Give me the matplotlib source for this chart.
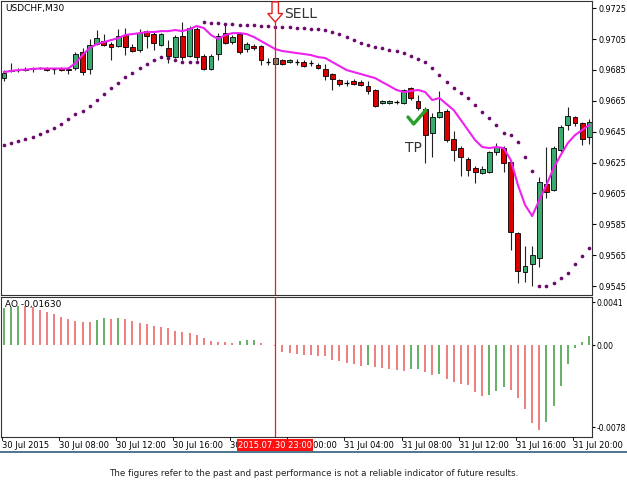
import matplotlib
matplotlib.use("Agg")
import matplotlib.pyplot as plt
from matplotlib.patches import Rectangle, FancyArrow
import numpy as np

opens = [0.96797,0.96843,0.96849,0.96852,0.96862,0.96862,0.96862,0.96856,0.96862,0.96859,
         0.96862,0.96966,0.96856,0.97017,0.97037,0.97017,0.97004,0.97076,0.96998,0.96979,
         0.97101,0.97082,0.97011,0.96992,0.96933,0.97069,0.96940,0.97114,0.96940,0.96856,
         0.96953,0.97088,0.97030,0.97082,0.96985,0.97004,0.97004,0.96901,0.96927,0.96914,
         0.96901,0.96901,0.96901,0.96894,0.96881,0.96856,0.96823,0.96784,0.96765,0.96778,
         0.96771,0.96746,0.96720,0.96636,0.96636,0.96642,0.96636,0.96733,0.96649,0.96597,
         0.96441,0.96545,0.96584,0.96403,0.96344,0.96273,0.96215,0.96183,0.96189,0.96319,
         0.96344,0.96254,0.95794,0.95542,0.95594,0.95633,0.96111,0.96073,0.96332,0.96493,
         0.96545,0.96506,0.96416]
highs = [0.96849,0.96894,0.96862,0.96869,0.96869,0.96869,0.96869,0.96862,0.96869,0.96869,
         0.96966,0.96992,0.97050,0.97108,0.97082,0.97030,0.97114,0.97121,0.97017,0.97114,
         0.97108,0.97095,0.97088,0.97043,0.97076,0.97160,0.97134,0.97127,0.96953,0.96953,
         0.97088,0.97153,0.97076,0.97088,0.97030,0.97017,0.97011,0.96927,0.96933,0.96920,
         0.96920,0.96920,0.96914,0.96914,0.96894,0.96888,0.96830,0.96791,0.96784,0.96791,
         0.96784,0.96778,0.96726,0.96655,0.96655,0.96655,0.96726,0.96739,0.96687,0.96610,
         0.96571,0.96713,0.96597,0.96454,0.96357,0.96286,0.96228,0.96228,0.96325,0.96377,
         0.96357,0.96260,0.95801,0.95710,0.95710,0.96157,0.96351,0.96357,0.96493,0.96610,
         0.96551,0.96513,0.96534]
lows = [0.96778,0.96836,0.96836,0.96843,0.96836,0.96856,0.96843,0.96823,0.96843,0.96823,
        0.96849,0.96817,0.96823,0.97011,0.97004,0.96914,0.96998,0.96946,0.96966,0.96966,
        0.96992,0.96979,0.97004,0.96894,0.96927,0.96914,0.96933,0.96914,0.96849,0.96849,
        0.96914,0.97017,0.97017,0.96953,0.96966,0.96979,0.96881,0.96881,0.96881,0.96881,
        0.96894,0.96881,0.96868,0.96875,0.96856,0.96784,0.96720,0.96746,0.96746,0.96752,
        0.96746,0.96694,0.96610,0.96629,0.96629,0.96629,0.96629,0.96655,0.96590,0.96247,
        0.96286,0.96539,0.96383,0.96260,0.96163,0.96163,0.96118,0.96176,0.96183,0.96299,
        0.96189,0.95684,0.95471,0.95477,0.95452,0.95575,0.96021,0.96066,0.96319,0.96461,
        0.96487,0.96364,0.96370]
closes = [0.96830,0.96849,0.96846,0.96856,0.96859,0.96862,0.96849,0.96856,0.96849,0.96849,
          0.96953,0.96836,0.97011,0.97056,0.97011,0.96998,0.97069,0.96998,0.96972,0.97088,
          0.97069,0.97024,0.97082,0.96940,0.97063,0.96933,0.97121,0.96933,0.96856,0.96940,
          0.97069,0.97024,0.97063,0.96966,0.97017,0.96992,0.96914,0.96901,0.96888,0.96888,
          0.96914,0.96901,0.96875,0.96894,0.96862,0.96810,0.96791,0.96759,0.96765,0.96759,
          0.96752,0.96713,0.96616,0.96649,0.96649,0.96642,0.96720,0.96668,0.96603,0.96428,
          0.96545,0.96577,0.96396,0.96332,0.96286,0.96202,0.96189,0.96209,0.96319,0.96351,
          0.96247,0.95801,0.95549,0.95581,0.95652,0.96124,0.96060,0.96344,0.96480,0.96551,
          0.96506,0.96403,0.96513]
ma = [0.96836,0.96843,0.96849,0.96852,0.96856,0.96859,0.96859,0.96859,0.96859,0.96859,
      0.96894,0.96946,0.96992,0.97017,0.97030,0.97043,0.97056,0.97076,0.97082,0.97088,
      0.97095,0.97095,0.97101,0.97101,0.97108,0.97101,0.97114,0.97134,0.97121,0.97076,
      0.97050,0.97076,0.97088,0.97088,0.97082,0.97063,0.97037,0.97011,0.96985,0.96972,
      0.96966,0.96959,0.96953,0.96946,0.96933,0.96927,0.96901,0.96875,0.96849,0.96836,
      0.96823,0.96810,0.96797,0.96771,0.96746,0.96720,0.96707,0.96713,0.96720,0.96707,
      0.96655,0.96668,0.96629,0.96590,0.96526,0.96461,0.96396,0.96351,0.96344,0.96351,
      0.96344,0.96267,0.96105,0.95976,0.95904,0.96008,0.96105,0.96215,0.96299,0.96377,
      0.96428,0.96461,0.96493]
sar = [0.96364,0.96377,0.96390,0.96403,0.96416,0.96435,0.96454,0.96474,0.96500,0.96532,
       0.96564,0.96584,0.96616,0.96655,0.96694,0.96733,0.96765,0.96804,0.96830,0.96862,
       0.96888,0.96914,0.96933,0.96927,0.96914,0.96901,0.96901,0.96901,
       0.97160,0.97153,0.97153,0.97147,0.97147,0.97140,0.97140,0.97140,0.97134,0.97134,
       0.97127,0.97127,0.97127,0.97121,0.97121,0.97114,0.97114,0.97108,0.97095,0.97082,
       0.97063,0.97043,0.97024,0.97011,0.96998,0.96991,0.96979,
       0.96972,0.96959,0.96940,0.96920,0.96901,0.96862,0.96817,0.96771,0.96733,0.96700,
       0.96668,0.96623,0.96577,0.96539,0.96493,0.96441,0.96429,0.96383,0.96286,0.96196,
       0.95452,0.95452,0.95471,0.95503,0.95536,0.95594,0.95646,0.95698]
ao = [0.00352,0.00368,0.00374,0.00372,0.00368,0.00336,0.00320,0.00298,0.00272,0.00246,
      0.00230,0.00221,0.00219,0.00240,0.00256,0.00250,0.00259,0.00250,0.00230,0.00208,
      0.00198,0.00182,0.00173,0.00160,0.00138,0.00128,0.00118,0.00096,0.00074,0.00038,
      0.00032,0.00029,0.00026,0.00042,0.00048,0.00054,0.00022,0.00006,-0.00010,-0.00064,
      -0.00074,-0.00086,-0.00090,-0.00096,-0.00102,-0.00106,-0.00138,-0.00154,-0.00170,-0.00182,
      -0.00198,-0.00189,-0.00208,-0.00214,-0.00227,-0.00240,-0.00246,-0.00230,-0.00227,-0.00256,
      -0.00282,-0.00272,-0.00320,-0.00352,-0.00368,-0.00374,-0.00448,-0.00480,-0.00470,-0.00432,
      -0.00400,-0.00426,-0.00506,-0.00608,-0.00742,-0.00806,-0.00730,-0.00582,-0.00384,-0.00176,
      -0.00022,0.00032,0.00090]
price_ticks = [0.9725,0.9705,0.9685,0.9665,0.9645,0.9625,0.9605,0.9585,0.9565,0.9545]
ao_ticks = [0.0041,0.0,-0.0078]
ao_tick_labels = ["0.0041","0.00","-0.0078"]
time_pos = [0,8,16,24,32,40,48,56,64,72,80]
time_labels = ["30 Jul 2015","30 Jul 08:00","30 Jul 12:00","30 Jul 16:00","30 Jul 20:00",
               "31 Jul 00:00","31 Jul 04:00","31 Jul 08:00","31 Jul 12:00","31 Jul 16:00","31 Jul 20:00"]
sell_idx = 38

W, H = 627, 495
fig = plt.figure(figsize=(W/100, H/100), dpi=100)
fig.patch.set_facecolor("white")

def ax_px(x0, y0, x1, y1):
    return fig.add_axes([x0/W, 1-y1/H, (x1-x0)/W, (y1-y0)/H])

xl = (-0.42, 82.38)
ax = ax_px(1, 1, 592, 295)
ax2 = ax_px(1, 297, 592, 437)
n = len(opens)
idx = np.arange(n)

GREEN = "#3aaa6e"
RED = "#d90000"
for i in range(n):
    o, h, l, c = opens[i], highs[i], lows[i], closes[i]
    ax.vlines(i, l, h, color="#222222", lw=0.8, zorder=2)
    if i == sell_idx:
        col = "#8a8a70"
    else:
        col = GREEN if c > o else RED
    lo, hi = min(o, c), max(o, c)
    if hi - lo < 0.00003:
        ax.hlines(o, i-0.3, i+0.3, color="black", lw=0.9, zorder=3)
    else:
        ax.add_patch(Rectangle((i-0.34, lo), 0.68, hi-lo, facecolor=col,
                               edgecolor="black", lw=0.6, zorder=3))
ax.plot(idx, ma, color="#ee22ee", lw=1.5, zorder=4)
ax.scatter(idx, sar, s=7, color="#6a0a6a", zorder=4, linewidths=0)
ax.set_xlim(*xl)
ax.set_ylim(0.95393, 0.97296)
ax.axvline(sell_idx, color="#ee1c1c", lw=0.9, zorder=5)
ax2.axvline(sell_idx, color="#ee1c1c", lw=0.9, zorder=5)

for a in (ax, ax2):
    a.yaxis.tick_right()
    a.tick_params(axis="y", labelsize=5.8, length=3, pad=1.5, colors="black")
    a.set_xticks([])
    for s in a.spines.values():
        s.set_linewidth(0.8)
        s.set_color("#333333")
ax.set_yticks(price_ticks)
ax.set_yticklabels([f"{t:.4f}" for t in price_ticks])

ao_col = [("#3a9a3a" if (i > 0 and ao[i] > ao[i-1]) or i == 0 else "#e85a5a") for i in range(n)]
ax2.vlines(idx, 0, ao, colors=ao_col, lw=1.1)
ax2.set_xlim(*xl)
ax2.set_ylim(-0.00874, 0.0046)
ax2.set_yticks(ao_ticks)
ax2.set_yticklabels(ao_tick_labels)
ax2.tick_params(axis="y", labelsize=5.5, length=2, pad=1)

ax.text(4/591, 1-7/294, "USDCHF,M30", transform=ax.transAxes, fontsize=6.5, va="center", ha="left")
ax2.text(4/591, 1-7/140, "AO -0,01630", transform=ax2.transAxes, fontsize=6.5, va="center", ha="left")

# sell arrow
ax.add_patch(FancyArrow(sell_idx, 0.97290, 0, -0.00130, width=0.9, head_width=2.1,
                        head_length=0.00055, length_includes_head=True, facecolor="white",
                        edgecolor="#e02020", lw=1.0, zorder=6))
ax.text(sell_idx+1.3, 0.97212, "SELL", fontsize=10, color="#333333", va="center", zorder=6)
ax.plot([56.6, 57.4, 59.1], [0.96545, 0.96500, 0.96590], color="#2aa02a", lw=2.4,
        solid_capstyle="round", solid_joinstyle="round", zorder=6)
ax.text(57.4, 0.96345, "TP", fontsize=10, color="#333333", ha="center", va="center", zorder=6)

# time labels
for p, lab in zip(time_pos, time_labels):
    xp = (1 + (p - 0.3 - xl[0]) / (xl[1]-xl[0]) * 591) / W
    fig.text(xp, 1-445/H, lab, fontsize=6, ha="left", va="center")
    fig.add_artist(plt.Line2D([xp, xp], [1-437/H, 1-440/H], color="black", lw=0.6))
xs = (1 + (sell_idx - xl[0]) / (xl[1]-xl[0]) * 591) / W
fig.text(xs, 1-445/H, "2015.07.30 23:00", fontsize=6, ha="center", va="center", color="white",
         bbox=dict(boxstyle="square,pad=0.15", facecolor="#ff1010", edgecolor="none"), zorder=10)
fig.add_artist(plt.Line2D([0, 1], [1-452/H, 1-452/H], color="#2e5d78", lw=1.2))
fig.text(0.5, 1-473/H, "The figures refer to the past and past performance is not a reliable indicator of future results.",
         fontsize=6.3, ha="center", va="center", color="#222222")

fig.savefig("out.png", dpi=100, facecolor="white")
